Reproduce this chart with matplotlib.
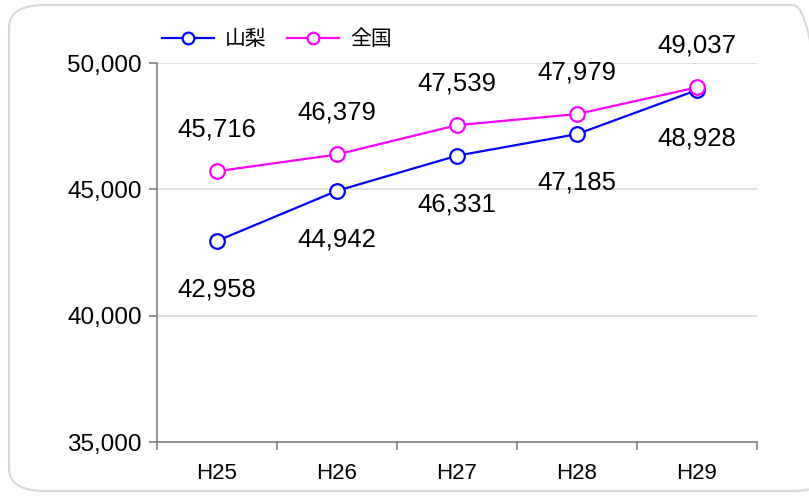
import matplotlib
matplotlib.use("Agg")
import matplotlib.pyplot as plt
from matplotlib.patches import FancyBboxPatch
from matplotlib.ticker import FuncFormatter

categories = ["H25", "H26", "H27", "H28", "H29"]
yamanashi = [42958, 44942, 46331, 47185, 48928]
zenkoku = [45716, 46379, 47539, 47979, 49037]
series_names = ["山梨", "全国"]

plt.rcParams['font.family'] = ['Liberation Sans', 'Noto Sans CJK JP', 'DejaVu Sans']

fig = plt.figure(figsize=(8.09, 4.97), dpi=100)
ax = fig.add_axes([157/809, 55/497, 600/809, 379/497])

border = FancyBboxPatch((9/809, 6/497), 820/809, 486/497,
                        boxstyle="round,pad=0,rounding_size=0.045",
                        transform=fig.transFigure, facecolor='none',
                        edgecolor='#d9d9d9', linewidth=1.5, clip_on=False)
fig.patches.append(border)

x = list(range(len(categories)))
ax.plot(x, yamanashi, color='#0000ff', lw=1.6, marker='o', ms=10.5,
        mfc='white', mec='#0000ff', mew=1.6, label=series_names[0], zorder=3)
ax.plot(x, zenkoku, color='#ff00ff', lw=1.6, marker='o', ms=10.5,
        mfc='white', mec='#ff00ff', mew=1.6, label=series_names[1], zorder=4)

for xi, v in zip(x, zenkoku):
    ax.annotate(f"{v:,}", (xi, v), xytext=(0, 30), textcoords='offset points',
                ha='center', va='center', fontsize=18.5, color='black')
for xi, v in zip(x, yamanashi):
    ax.annotate(f"{v:,}", (xi, v), xytext=(0, -35), textcoords='offset points',
                ha='center', va='center', fontsize=18.5, color='black')

ax.set_xlim(-0.5, len(categories) - 0.5)
ax.set_ylim(35000, 50000)
ax.set_yticks([35000, 40000, 45000, 50000])
ax.yaxis.set_major_formatter(FuncFormatter(lambda v, p: f"{int(v):,}"))
ax.set_xticks(x)
ax.set_xticklabels(categories)
ax.set_xticks([i - 0.5 for i in range(len(categories) + 1)], minor=True)
ax.tick_params(axis='x', which='major', length=0, labelsize=16, pad=15)
ax.tick_params(axis='x', which='minor', length=6, color='#808080', width=1.2)
ax.tick_params(axis='y', length=6, color='#808080', width=1.2, labelsize=17.5, pad=5)
ax.grid(axis='y', color='#d9d9d9', lw=1.2)
ax.set_axisbelow(True)
for s in ['top', 'right']:
    ax.spines[s].set_visible(False)
for s in ['left', 'bottom']:
    ax.spines[s].set_color('#808080')
    ax.spines[s].set_linewidth(1.2)

leg = ax.legend(loc='lower left', bbox_to_anchor=(-0.005, 1.015), ncol=2, frameon=False,
                fontsize=15, handlelength=2.5, columnspacing=1.0, handletextpad=0.5,
                borderaxespad=0, markerscale=0.8)

fig.savefig("out.png", dpi=100)
